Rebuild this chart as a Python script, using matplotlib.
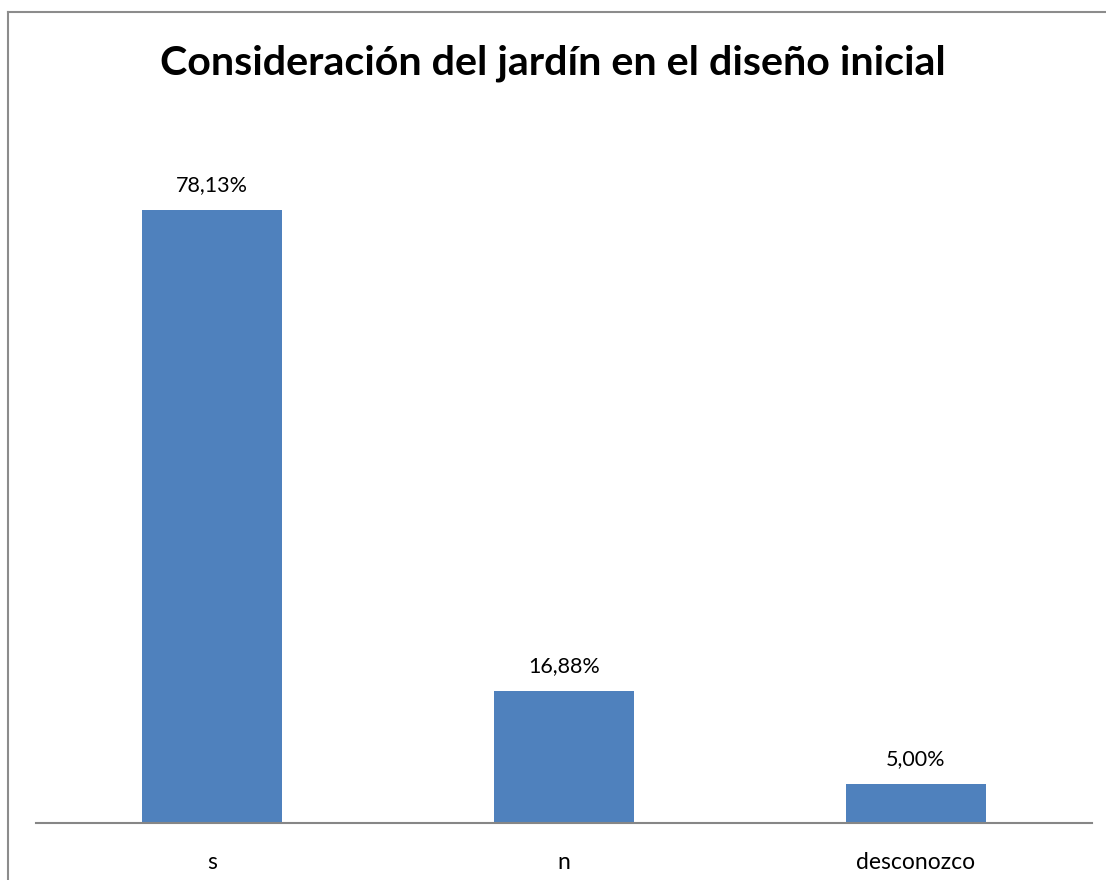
import matplotlib
matplotlib.use("Agg")
import matplotlib.pyplot as plt
from matplotlib.lines import Line2D

# data
categories = ["s", "n", "desconozco"]
values = [78.13, 16.88, 5.00]
value_labels = ["78,13%", "16,88%", "5,00%"]
title = "Consideración del jardín en el diseño inicial"

W, H = 1106, 880
fig = plt.figure(figsize=(W / 100, H / 100), dpi=100)
fig.patch.set_facecolor("white")

# outer chart border (left and top visible; rest runs off the image)
fig.add_artist(Line2D([8 / W, 8 / W], [0, 1 - 12 / H], color="#8c8c8c", lw=1.5))
fig.add_artist(Line2D([8 / W, 1], [1 - 12 / H, 1 - 12 / H], color="#8c8c8c", lw=1.5))

ax = fig.add_axes([36 / W, 57 / H, (1092 - 36) / W, (823 - 117) / H])
x = range(len(categories))
bars = ax.bar(x, values, width=0.4, color="#4F81BD")

ax.set_xlim(-0.5, len(categories) - 0.5)
ax.set_ylim(0, 90)
ax.set_yticks([])
ax.set_xticks(list(x))
ax.set_xticklabels(categories, fontsize=16.5, family="Lato")
ax.tick_params(axis="x", length=0, pad=21)
for side in ("top", "right", "left"):
    ax.spines[side].set_visible(False)
ax.spines["bottom"].set_color("#868686")
ax.spines["bottom"].set_linewidth(1.5)

for b, lab in zip(bars, value_labels):
    ax.annotate(lab, (b.get_x() + b.get_width() / 2, b.get_height()),
                xytext=(0, 13.5), textcoords="offset points",
                ha="center", va="baseline", fontsize=15.5, family="Lato")

fig.text(0.5, 1 - 74 / H, title, ha="center", va="baseline",
         fontsize=29.7, fontweight="bold", family="Lato")

fig.savefig("out.png", dpi=100)
